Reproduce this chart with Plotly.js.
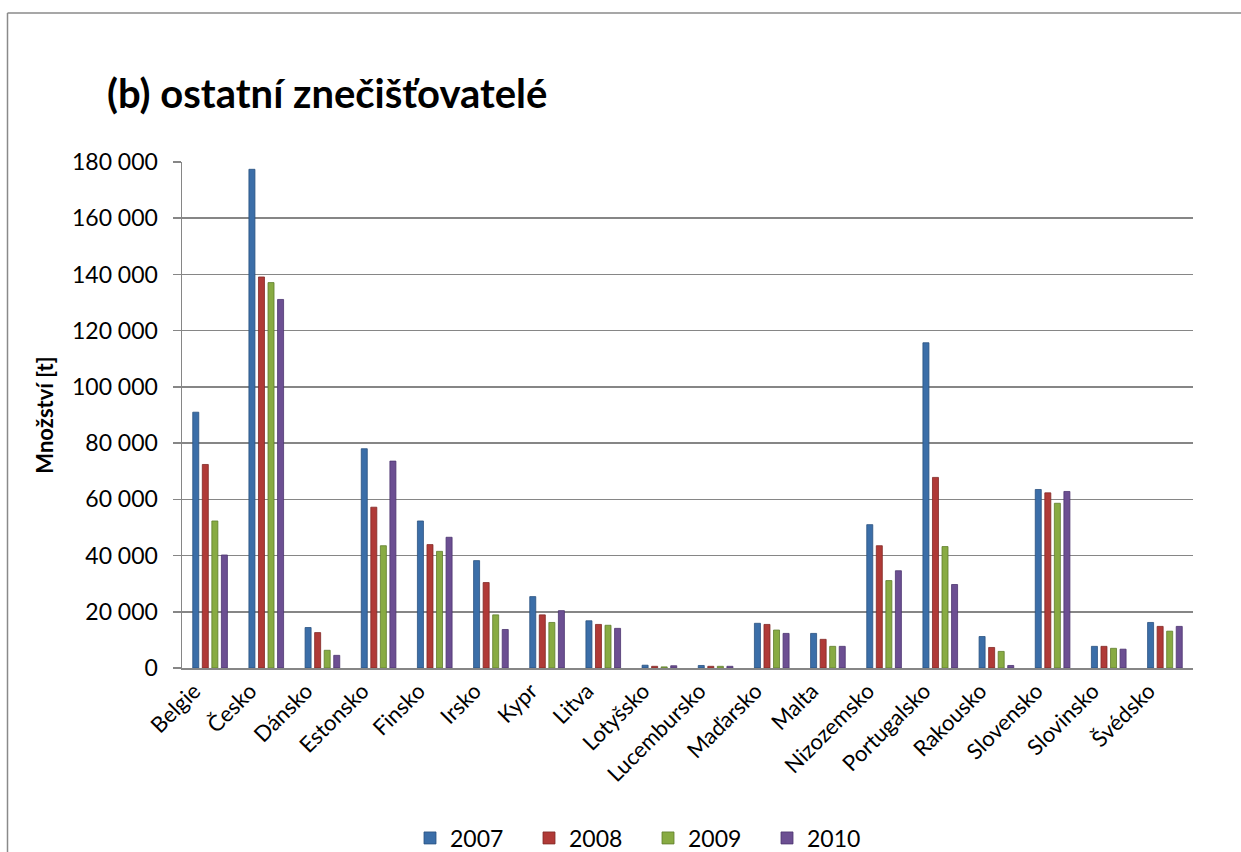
<!DOCTYPE html>
<html>
<head>
<meta charset="utf-8">
<script src="https://cdn.plot.ly/plotly-3.0.1.min.js"></script>
<style>html,body{margin:0;padding:0;background:#fff;overflow:hidden;}#chart{width:1241px;height:852px;}</style>
</head>
<body>
<div id="chart"></div>
<script>
const categories = ["Belgie","Česko","Dánsko","Estonsko","Finsko","Irsko","Kypr","Litva","Lotyšsko","Lucembursko","Maďarsko","Malta","Nizozemsko","Portugalsko","Rakousko","Slovensko","Slovinsko","Švédsko"];
const years = ["2007","2008","2009","2010"];
const v2007 = [91000,177400,14400,78000,52300,38200,25400,16800,1000,900,15900,12300,51000,115700,11200,63500,7700,16200];
const v2008 = [72400,139100,12600,57200,43900,30400,18900,15500,600,600,15500,10200,43500,67800,7300,62300,7700,14800];
const v2009 = [52300,137100,6300,43500,41500,18900,16200,15200,400,600,13500,7700,31100,43200,5900,58600,7000,13100];
const v2010 = [40200,131100,4500,73600,46500,13700,20400,14100,800,600,12300,7700,34600,29700,900,62800,6700,14800];
const yTicks = [0,20000,40000,60000,80000,100000,120000,140000,160000,180000];

const series = [v2007, v2008, v2009, v2010];
const colors = ["#3b6ea8","#b03a37","#88ab43","#6c4f92"];
const lines = ["#2a5080","#822826","#5f7d2c","#4d3570"];

const traces = series.map((vals, i) => ({
  type: "bar",
  name: years[i],
  x: categories,
  y: vals,
  marker: {color: colors[i], line: {color: lines[i], width: 0.8}},
  hoverinfo: "x+y+name"
}));

const fontFam = "Lato, 'Open Sans', sans-serif";
const bx0 = (7.5-182)/1011, bx1 = (1320-182)/1011;
const by0 = (668-920)/506, by1 = (668-13)/506;
const layout = {
  width: 1241, height: 852,
  margin: {l: 182, r: 48, t: 162, b: 184, pad: 0},
  paper_bgcolor: "#ffffff", plot_bgcolor: "#ffffff",
  separators: ", ",
  barmode: "group",
  bargap: 0.32,
  bargroupgap: 0.37,
  font: {family: fontFam, color: "#000000", size: 22},
  title: {
    text: "<b>(b) ostatní znečišťovatelé</b>",
    font: {family: fontFam, size: 40, color: "#000"},
    xref: "container", x: 107/1241, xanchor: "left",
    yref: "container", y: 1 - 94/852, yanchor: "middle"
  },
  xaxis: {
    type: "category",
    tickangle: -45,
    showgrid: false,
    showline: true, linecolor: "#868686", linewidth: 1.5,
    ticks: "", tickfont: {family: fontFam, size: 22, color: "#000"},
    ticklabelshift: -16,
    ticklabelstandoff: 0,
    fixedrange: true
  },
  yaxis: {
    range: [0, 180000],
    tickvals: yTicks,
    tickformat: ",d",
    showgrid: true, gridcolor: "#868686", gridwidth: 1.5,
    showline: true, linecolor: "#868686", linewidth: 1.5,
    zeroline: false,
    ticks: "outside", ticklen: 8, tickcolor: "#868686", tickwidth: 1.5,
    ticklabelstandoff: 10,
    tickfont: {family: fontFam, size: 23, color: "#000"},
    title: {text: "<b>Množství [t]</b>", font: {family: fontFam, size: 22, color: "#000"}, standoff: 12},
    fixedrange: true
  },
  legend: {
    orientation: "h",
    xref: "container", x: 648/1241, xanchor: "center",
    yref: "container", y: 1 - 838/852, yanchor: "middle",
    font: {family: fontFam, size: 23, color: "#000"},
    entrywidth: 74, entrywidthmode: "pixels",
    itemwidth: 30,
    traceorder: "normal"
  },
  shapes: [
    {type: "line", xref: "paper", yref: "paper", x0: bx0, x1: bx1, y0: by1, y1: by1,
     line: {color: "#8a8a8a", width: 1.5}, layer: "below"},
    {type: "line", xref: "paper", yref: "paper", x0: bx0, x1: bx0, y0: by0, y1: by1,
     line: {color: "#8a8a8a", width: 1.5}, layer: "below"}
  ]
};

Plotly.newPlot("chart", traces, layout, {displayModeBar: false, staticPlot: true});
</script>
</body>
</html>
